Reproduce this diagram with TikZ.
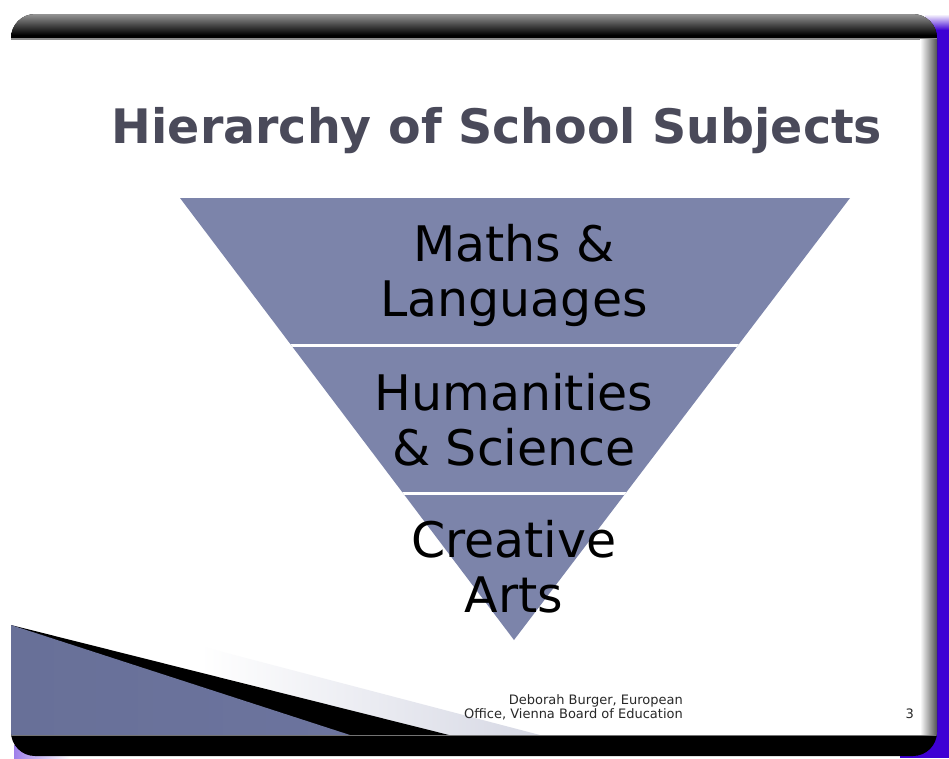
\documentclass[tikz,border=0pt]{standalone}
\usepackage{fontspec}
\setmainfont{DejaVu Sans}
\definecolor{tri}{RGB}{124,132,170}
\definecolor{titlec}{RGB}{74,74,90}
\definecolor{edgeblue}{RGB}{62,0,212}
\definecolor{decoL}{RGB}{104,112,152}
\definecolor{decoM}{RGB}{138,147,188}
\definecolor{decoR}{RGB}{108,116,158}
\definecolor{lightwedge}{RGB}{214,216,228}
\definecolor{footc}{RGB}{40,40,40}
\tikzset{
  titletext/.style={font=\fontsize{47.5}{54}\selectfont\bfseries, text=titlec, inner sep=0pt, anchor=base},
  bandtext/.style={font=\fontsize{49}{55}\selectfont, text=black, inner sep=0pt, anchor=base},
  foottext/.style={font=\fontsize{13}{14}\selectfont, text=footc, inner sep=0pt, anchor=base east},
  divider/.style={white, line width=3pt}
}
\begin{document}
\begin{tikzpicture}[x=1pt,y=-1pt]
\useasboundingbox (0,0) rectangle (949,758);
\fill[white] (0,0) rectangle (949,758);
% blue edge behind slide
\fill[edgeblue] (900,28) rectangle (949,758);
\shade[top color=white, bottom color=edgeblue] (925,14) rectangle (949,30);
\shade[left color=edgeblue!50, right color=white] (14,745) rectangle (70,758);
% slide body
\fill[black, rounded corners=24] (11,14) rectangle (937,756);
\begin{scope}
  \clip[rounded corners=24] (11,14) rectangle (937,756);
  \shade[top color=black!42, bottom color=black] (11,14) rectangle (937,35);
  \fill[black!45] (11,38) rectangle (937,39.5);
  \fill[white] (11,39.5) rectangle (920,735);
  \shade[left color=white, right color=black!68] (920,39.5) rectangle (937,735);
  % bottom-left decoration
  \shade[left color=white, right color=lightwedge] (200,646) -- (540,735) -- (200,735) -- cycle;
  \fill[black] (11,625) -- (449,735) -- (11,735) -- cycle;
  \shade[left color=decoL, middle color=decoM, right color=decoR] (11,625) -- (350,735) -- (11,735) -- cycle;
  \fill[black!55] (11,734.5) rectangle (937,735.5);
\end{scope}
% title
\node[titletext] (title) at (497,143) {Hierarchy of School Subjects};
% inverted pyramid
\coordinate (tl) at (180,198);
\coordinate (tr) at (850,198);
\coordinate (apex) at (514,640);
\fill[tri] (tl) -- (tr) -- (apex) -- cycle;
\begin{scope}
  \clip (tl) -- (tr) -- (apex) -- cycle;
  \draw[divider] (150,345.5) -- (880,345.5);
  \draw[divider] (150,493.5) -- (880,493.5);
\end{scope}
\node[bandtext] (b1a) at (514,261) {Maths \&};
\node[bandtext] (b1b) at (514,316) {Languages};
\node[bandtext] (b2a) at (514,410) {Humanities};
\node[bandtext] (b2b) at (514,465) {\& Science};
\node[bandtext] (b3a) at (514,557) {Creative};
\node[bandtext] (b3b) at (514,612) {Arts};
% footer
\node[foottext] (f1) at (683,704) {Deborah Burger, European};
\node[foottext] (f2) at (683,718) {Office, Vienna Board of Education};
\node[foottext] (pnum) at (914,718) {3};
\end{tikzpicture}
\end{document}
